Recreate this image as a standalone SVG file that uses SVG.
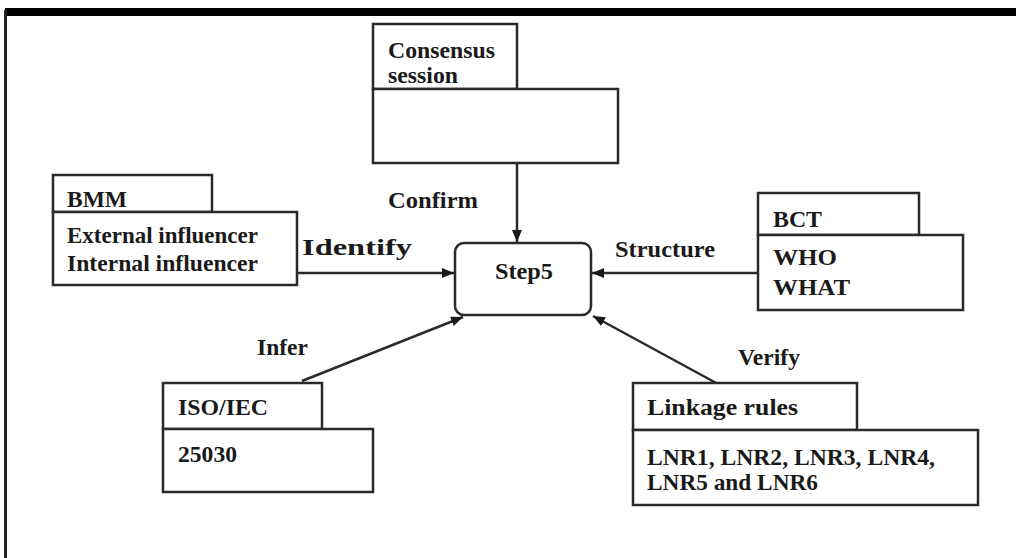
<svg xmlns="http://www.w3.org/2000/svg" width="1016" height="558" viewBox="0 0 1016 558">
<style>
.box{fill:#fff;stroke:#2a2a2a;stroke-width:2.5}
.t{font-family:"Liberation Serif","Times New Roman",serif;font-size:23px;font-weight:bold;fill:#1a1a1a}
.c{stroke:#2a2a2a;stroke-width:2.5;fill:none;marker-end:url(#ah)}
</style>
<defs>
<marker id="ah" markerUnits="userSpaceOnUse" markerWidth="14" markerHeight="12" refX="12" refY="5" orient="auto">
<path d="M0,0 L12,5 L0,10 Z" fill="#1a1a1a"/>
</marker>
</defs>
<rect x="0" y="0" width="1016" height="558" fill="#fff"/>
<rect x="5" y="8" width="1011" height="8" fill="#000"/>
<rect x="4" y="10" width="3" height="548" fill="#222"/>
<g id="connectors">
<line class="c" x1="517" y1="163" x2="517" y2="242"/>
<line class="c" x1="297" y1="273" x2="454" y2="273"/>
<line class="c" x1="758" y1="273" x2="592" y2="273"/>
<line class="c" x1="302" y1="381" x2="463" y2="317"/>
<line class="c" x1="718" y1="384" x2="593" y2="316"/>
<text class="t" x="388" y="208" textLength="90" lengthAdjust="spacingAndGlyphs">Confirm</text>
<text class="t" x="302" y="255" textLength="110" lengthAdjust="spacingAndGlyphs">Identify</text>
<text class="t" x="615" y="257" textLength="100" lengthAdjust="spacingAndGlyphs">Structure</text>
<text class="t" x="257" y="355" textLength="51" lengthAdjust="spacingAndGlyphs">Infer</text>
<text class="t" x="738" y="365" textLength="62" lengthAdjust="spacingAndGlyphs">Verify</text>
</g>
<g id="consensus">
<rect class="box" x="373" y="24" width="144" height="65"/>
<rect class="box" x="373" y="89" width="245" height="74"/>
<text class="t" x="388" y="58" textLength="107" lengthAdjust="spacingAndGlyphs">Consensus</text>
<text class="t" x="388" y="83" textLength="70" lengthAdjust="spacingAndGlyphs">session</text>
</g>
<g id="bmm">
<rect class="box" x="53" y="175" width="159" height="37"/>
<rect class="box" x="53" y="212" width="244" height="73"/>
<text class="t" x="67" y="207" textLength="60" lengthAdjust="spacingAndGlyphs">BMM</text>
<text class="t" x="67" y="243" textLength="191" lengthAdjust="spacingAndGlyphs">External influencer</text>
<text class="t" x="67" y="271" textLength="191" lengthAdjust="spacingAndGlyphs">Internal influencer</text>
</g>
<g id="step5">
<rect class="box" x="455" y="243" width="136" height="72" rx="9" ry="9"/>
<text class="t" x="495" y="279" textLength="58" lengthAdjust="spacingAndGlyphs">Step5</text>
</g>
<g id="bct">
<rect class="box" x="758" y="193" width="161" height="42"/>
<rect class="box" x="758" y="235" width="205" height="75"/>
<text class="t" x="773" y="227" textLength="49" lengthAdjust="spacingAndGlyphs">BCT</text>
<text class="t" x="773" y="265" textLength="64" lengthAdjust="spacingAndGlyphs">WHO</text>
<text class="t" x="773" y="295" textLength="77" lengthAdjust="spacingAndGlyphs">WHAT</text>
</g>
<g id="iso">
<rect class="box" x="163" y="383" width="159" height="46"/>
<rect class="box" x="163" y="429" width="210" height="63"/>
<text class="t" x="178" y="415" textLength="90" lengthAdjust="spacingAndGlyphs">ISO/IEC</text>
<text class="t" x="178" y="462" textLength="59" lengthAdjust="spacingAndGlyphs">25030</text>
</g>
<g id="linkage">
<rect class="box" x="633" y="383" width="224" height="47"/>
<rect class="box" x="633" y="430" width="345" height="75"/>
<text class="t" x="647" y="415" textLength="151" lengthAdjust="spacingAndGlyphs">Linkage rules</text>
<text class="t" x="647" y="465" textLength="288" lengthAdjust="spacingAndGlyphs">LNR1, LNR2, LNR3, LNR4,</text>
<text class="t" x="647" y="490" textLength="171" lengthAdjust="spacingAndGlyphs">LNR5 and LNR6</text>
</g>
</svg>
